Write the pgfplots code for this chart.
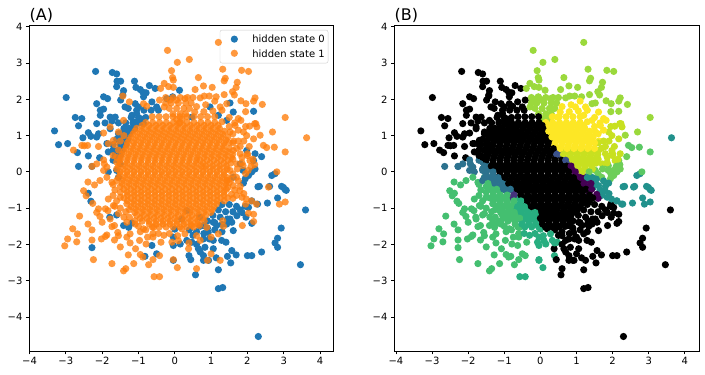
\documentclass[border=0pt]{standalone}
\usepackage{pgfplots}
\usepackage{pgfplotstable}
\usepackage{fontspec}
\setmainfont{DejaVu Sans}
\pgfplotsset{compat=1.18}
\definecolor{cblue}{HTML}{1F77B4}
\definecolor{corange}{HTML}{FF7F0E}
\definecolor{k0}{HTML}{000000}
\definecolor{k1}{HTML}{440154}
\definecolor{k11}{HTML}{46327E}
\definecolor{k2}{HTML}{3B528B}
\definecolor{k3}{HTML}{2C728E}
\definecolor{k4}{HTML}{21918C}
\definecolor{k5}{HTML}{28AE80}
\definecolor{k6}{HTML}{44BF70}
\definecolor{k12}{HTML}{5AC864}
\definecolor{k7}{HTML}{6ECE58}
\definecolor{k8}{HTML}{9BD93C}
\definecolor{k9}{HTML}{C8E020}
\definecolor{k10}{HTML}{FDE725}
\tikzset{cc/.style={mark=*,#1,draw=#1,fill=#1,draw opacity=0}}
\pgfplotsset{panel/.style={scale only axis,height=326pt,ymin=-4.94,ymax=4.05,
 xtick={-4,-3,-2,-1,0,1,2,3,4},xticklabels={−4,−3,−2,−1,0,1,2,3,4},
 ytick={-4,-3,-2,-1,0,1,2,3,4},yticklabels={−4,−3,−2,−1,0,1,2,3,4},
 tick align=outside,major tick length=3.5pt,xtick pos=bottom,ytick pos=left,
 tick style={line width=0.8pt,black},axis line style={line width=0.8pt},
 tick label style={font=\fontsize{10}{12}\selectfont},
 xticklabel style={yshift=0.5pt},
 title style={at={(0,1)},anchor=south west,inner sep=0pt,yshift=-4pt,font=\fontsize{16}{18}\selectfont}}}
\pgfplotstableread[row sep=\\]{
x y s c\\
-2.18 2.77 0 0\\ -1.72 2.74 0 0\\ -1.6 2.7 0 0\\ -1.59 2.5 0 0\\ -1.49 2.5 0 0\\ -1.6 2.35 0 0\\
-2.99 2.05 0 0\\ -1.96 2.07 0 0\\ -1.85 2.02 0 0\\ -2.15 1.88 0 0\\ -1.41 2.24 0 0\\ -1.43 2.12 0 0\\ -1.49 1.98 0 0\\
-1.11 2.5 0 0\\ -1.07 2.33 0 0\\ -.95 2.27 0 0\\ -.88 2.2 0 0\\ -.7 2.38 0 0\\ -.54 2.3 0 0\\ -.79 2.18 0 0\\ -.86 2.07 0 0\\
.13 2.25 0 8\\ -.06 2.07 0 8\\
-2.74 1.5 0 0\\ -2.56 1.47 0 0\\ -2.65 1.27 0 0\\ -3.31 1.13 0 0\\ -3.2 .75 0 0\\ -2.95 .78 0 0\\ -2.53 .94 0 0\\ -2.38 1.08 0 0\\ -2.31 .98 0 0\\
-2.68 .53 0 0\\ -2.38 .44 0 0\\ -2.65 .15 0 3\\ -2.28 .15 0 3\\ -2.07 .39 0 0\\ -2.15 .96 0 0\\ -2.1 1.05 0 0\\ -2.05 1.7 0 0\\ -1.96 1.73 0 0\\ -2.05 1.56 0 0\\
-2.15 1.33 0 0\\ -1.92 1.35 0 0\\ -1.78 1.51 0 0\\ -1.64 1.51 0 0\\ -1.73 1.4 0 0\\ -1.78 1.19 0 0\\ -1.55 1.35 0 0\\ -1.87 .78 0 0\\ -1.83 .55 0 0\\ -1.64 .36 0 3\\
-1.5 .22 0 3\\ -1.6 .04 0 3\\ -1.83 0 0 3\\ -1.55 -.15 0 6\\
-1.37 1.79 0 0\\ -1.28 1.75 0 0\\ -1.09 1.88 0 0\\ -1 1.79 0 0\\ -1.05 1.61 0 0\\ -1.18 1.56 0 0\\ -.95 1.47 0 0\\ -1.14 1.38 0 0\\ -1.32 1.19 0 0\\ -1.5 1.05 0 0\\
-1.18 1.15 0 0\\ -.86 1.33 0 0\\ -.63 1.93 0 0\\ -.5 1.79 0 0\\ -.22 2.02 0 8\\
-1.05 1.7 0 0\\ -.85 1.7 0 0\\ -.65 1.7 0 0\\ -.45 1.7 0 0\\ -1.2 1.5 0 0\\ -1 1.5 0 0\\ -.8 1.5 0 0\\ -1.35 1.35 0 0\\ -1.15 1.35 0 0\\ -1 1.35 0 0\\ -1.4 1.2 0 0\\ -1.25 1.2 0 0\\ -1.1 1.2 0 0\\
-1.55 1.05 0 0\\ -1.4 1.05 0 0\\ -1.25 1.05 0 0\\ -1.6 .9 0 0\\ -1.45 .9 0 0\\ -1.3 .9 0 0\\ -1.7 .75 0 0\\ -1.5 .75 0 0\\ -1.35 .75 0 0\\ -1.7 .6 0 0\\ -1.55 .6 0 0\\ -1.45 .6 0 0\\ -1.65 .45 0 0\\ -1.5 .45 0 0\\ -1.7 .32 0 3\\ -1.55 .32 0 0\\
2.17 1.67 0 8\\ 1.52 1.9 0 8\\ 1.61 1.65 0 10\\ 1.43 1.42 0 10\\ .97 1.79 0 10\\ 1.2 1.56 0 10\\ .47 1.51 0 10\\
1.98 .59 0 9\\ 2.21 .5 0 9\\ 2.39 .42 0 7\\ 2.17 .31 0 7\\ 2.21 .08 0 7\\ 2.12 0 0 7\\ 2.03 -.1 0 7\\ 1.94 -.19 0 7\\ 1.88 .04 0 7\\ 2.67 -.1 0 4\\ 2.76 -.05 0 4\\
2.33 -.4 0 4\\ 2.61 -.4 0 4\\ 2.94 -.4 0 4\\ 3.04 -.49 0 4\\ 1.89 -.31 0 4\\ 1.61 -.15 0 4\\ 1.8 .22 0 7\\
-2.38 -.59 0 6\\ -2.31 -.81 0 6\\ 2.29 -.41 0 4\\ 2.99 -.43 0 4\\ 3.07 -.51 0 4\\ 2.83 -.72 0 4\\ 2.55 -.86 0 4\\ 3.6 -1.05 0 0\\ 2.12 -.8 0 4\\ 2.28 -.89 0 4\\
2.03 -.98 0 0\\ 1.96 -1.25 0 0\\ 2.12 -1.42 0 0\\ 2.93 -1.55 0 0\\ 2.83 -1.83 0 0\\ 2.76 -1.96 0 0\\ 2.83 -2.08 0 0\\ 1.57 -2.17 0 0\\ 1.69 -2.29 0 0\\ 1.45 -2.33 0 0\\ 1.54 -2.51 0 0\\
2 -2.31 0 0\\ 2.12 -2.31 0 0\\ 2.39 -2.21 0 0\\ 3.46 -2.56 0 0\\ 1.2 -2.7 0 0\\ .57 -2.84 0 0\\ 1.2 -3.22 0 0\\ 1.32 -3.19 0 0\\ 2.3 -4.54 0 0\\ -.04 -2.44 0 5\\ .39 -2.31 0 5\\ .44 -2.42 0 0\\
-2.28 -2.09 0 6\\ -.5 -2.26 0 6\\ -.82 -2.33 0 6\\ -.63 -2.03 0 6\\ 1.14 -2.37 0 0\\ .7 -2.21 0 0\\ .79 -2.31 0 0\\ .65 -2.12 0 0\\ .83 -2.08 0 0\\ 1.06 -2.12 0 0\\ .79 -2.44 0 0\\ .93 -2.44 0 0\\
.47 -1.94 0 5\\ .6 -2 0 0\\ .33 -1.89 0 5\\ .15 -1.99 0 5\\ -.04 -2.03 0 5\\ 1.29 -1.89 0 0\\ 1.41 -1.94 0 0\\ 1.06 -1.89 0 0\\ .92 -1.67 0 0\\ .79 -1.85 0 0\\ 1.15 -1.48 0 0\\ 1.06 -1.39 0 0\\
1.61 -1.62 0 0\\ 1.57 -1.39 0 0\\ 1.43 -1.44 0 0\\ 1.71 -1.21 0 0\\ 1.52 -1.3 0 0\\ 1.85 -1.12 0 0\\ 1.94 -.95 0 0\\ -1.41 -1.48 0 6\\ -1.27 -1.53 0 6\\ -1.18 -1.41 0 6\\ -1.6 -1.19 0 6\\ -1.79 -1.25 0 6\\
.33 -1.07 0 0\\ .19 -1.3 0 0\\ .69 -1.25 0 0\\ .79 -1.48 0 0\\ 0 -1.58 0 5\\ -.04 -1.8 0 5\\
1.3 -.9 0 0\\ 1.5 -.9 0 0\\ 1.7 -.95 0 0\\ 1.2 -1.05 0 0\\ 1.4 -1.1 0 0\\ 1.6 -1.1 0 0\\ 1.8 -1.05 0 0\\ 1.05 -1.2 0 0\\ 1.25 -1.25 0 0\\ 1.45 -1.3 0 0\\ .9 -1.35 0 0\\ 1.1 -1.4 0 0\\ 1.3 -1.45 0 0\\ .7 -1.5 0 0\\ .9 -1.55 0 0\\ .6 -1.65 0 0\\ .8 -1.7 0 0\\ 1.1 -1.6 0 0\\ .5 -1.75 0 0\\ .95 -1.85 0 0\\ .4 -1.6 0 0\\ 1.3 -1.65 0 0\\
1.2 3.57 1 8\\ -.2 3.35 1 8\\ .07 3.02 1 8\\ .4 3.1 1 8\\ -.09 2.79 1 8\\ -.06 2.6 1 8\\ -.04 2.53 1 8\\ 1.32 2.83 1 8\\ 1.84 2.8 1 8\\ 2.03 2.77 1 8\\ 1.39 2.58 1 8\\ 1.36 2.51 1 8\\ .65 2.6 1 8\\ 1.72 2.47 1 8\\ .79 2.37 1 8\\
1.03 2.33 1 8\\ .56 2.27 1 8\\ 1.69 2.33 1 8\\ 1.59 2.21 1 8\\ 1.64 2.12 1 8\\ 1.36 2.13 1 8\\ -.29 2.44 1 8\\ -.17 2.35 1 8\\ -.04 2.33 1 8\\ -.39 2.3 1 8\\ 2.21 2.04 1 8\\ 2.17 1.95 1 8\\ 1.96 1.88 1 8\\ 1.82 1.96 1 8\\
2.41 1.86 1 8\\ 1.95 1.66 1 8\\ 3.04 1.5 1 8\\ 2.23 1.33 1 9\\ 2.26 1.24 1 9\\ 2.06 1.26 1 9\\ 2.69 1.1 1 8\\ 3.63 .94 1 4\\ 2.35 1.01 1 8\\ 2.44 .73 1 12\\ 2.53 .67 1 12\\ 2.74 .68 1 12\\ 3.04 .55 1 12\\
2.17 .91 1 9\\ 1.98 1 1 9\\ 1.89 1.1 1 9\\ 1.75 1.47 1 10\\ 1.66 1.28 1 10\\ 1.82 1.42 1 10\\ .7 2.04 1 8\\ .81 2.09 1 8\\ .95 2.09 1 8\\ 1.14 2.07 1 8\\ 1.25 1.79 1 10\\ 1.43 1.88 1 8\\
-1.43 2.09 1 0\\ -1.25 1.93 1 0\\ -.86 1.88 1 0\\ -.77 1.81 1 0\\ -.42 1.98 1 0\\ -.29 1.79 1 8\\ -.13 1.98 1 8\\ .05 1.98 1 8\\ .28 2.02 1 8\\
-1.78 1.24 1 0\\ -1.41 1.42 1 0\\ -1.96 1.07 1 0\\ -2.56 .73 1 0\\ -2.49 .72 1 0\\ -2.79 .6 1 0\\ -2.4 .73 1 0\\ -2.1 .7 1 0\\ -1.83 .78 1 0\\ -1.69 .87 1 0\\
-2.28 .15 1 3\\ -2.15 .22 1 3\\ -1.96 .33 1 3\\ -1.94 .22 1 3\\ -1.87 .13 1 3\\ -1.6 .27 1 3\\ -1.96 .04 1 3\\ -2.39 -.28 1 6\\ -2.21 -.36 1 6\\ -2.06 -.24 1 6\\ -1.87 -.15 1 6\\ -1.73 -.29 1 6\\
-2.51 -.52 1 6\\ -2.44 -.66 1 6\\ -2.26 -.87 1 6\\ -2.1 -1.02 1 6\\ -2.15 -1.12 1 6\\ -2.62 -1.22 1 6\\ -2.06 -1.23 1 6\\ -2 -1.39 1 6\\ -2.39 -1.44 1 6\\ -2.28 -1.6 1 6\\ -2.81 -1.57 1 6\\ -2.68 -1.71 1 6\\ -2.95 -1.85 1 6\\ -2.7 -1.93 1 6\\ -3.03 -2.04 1 6\\
-2.28 -1.88 1 6\\ -2.02 -1.85 1 6\\ -1.91 -1.78 1 6\\ -1.87 -1.74 1 6\\ -1.73 -1.51 1 6\\ -1.66 -1.48 1 6\\ -1.66 -1.88 1 6\\ -1.57 -1.67 1 6\\ -1.55 -1.76 1 6\\ -1.5 -2.07 1 6\\ -1.32 -1.8 1 6\\ -1.23 -1.71 1 6\\ -1.23 -1.96 1 6\\ -1.08 -2.12 1 6\\ -1.28 -2.29 1 6\\
-.95 -2.28 1 6\\ -.88 -2.35 1 6\\ -.42 -2.31 1 6\\ -.6 -2.42 1 6\\ -.72 -2.56 1 6\\ -1.13 -2.53 1 6\\ -1.73 -2.53 1 6\\ -2.24 -2.42 1 6\\ -1.35 -2.67 1 6\\ -1.41 -2.73 1 6\\ -.57 -2.89 1 5\\ -.42 -2.89 1 5\\ -.04 -2.42 1 5\\ .07 -2.64 1 5\\ .6 -2.67 1 0\\ .38 -2.12 1 0\\ .39 -1.96 1 5\\ .9 -2.44 1 0\\ 1 -2.26 1 0\\ 1.25 -2.44 1 0\\
.1 -1.9 1 5\\ -.08 -1.94 1 5\\ -.38 -1.94 1 6\\ -.6 -1.8 1 6\\ -.79 -1.99 1 6\\ -.97 -1.89 1 6\\ -.86 -1.57 1 6\\ -.58 -1.53 1 6\\ -1.09 -1.44 1 6\\ -1.32 -1.39 1 6\\ -1.83 -.75 1 6\\ -1.69 -.93 1 6\\ -1.91 -1.02 1 6\\ -1.84 -1.07 1 6\\ -1.78 -1.3 1 6\\
2.58 -.42 1 4\\ 2.88 -.89 1 4\\ 3.04 -.83 1 4\\ 1.95 -.89 1 0\\ 2.03 -1.14 1 0\\ 2.17 -1.17 1 0\\ 2.17 -1.37 1 0\\ 1.86 -1.48 1 0\\ 1.32 -1.35 1 0\\ 1.34 -1.5 1 0\\ 1.2 -1.71 1 0\\ 1 -1.8 1 0\\ .6 -1.76 1 0\\ .7 -1.89 1 0\\ .19 -1.57 1 0\\ .47 -1.48 1 0\\ .28 -1.71 1 5\\ .88 -1.53 1 0\\ .68 -1.48 1 0\\
2.81 0 1 12\\ 1.8 .5 1 9\\ 2 .5 1 9\\ 2.07 .31 1 9\\ 1.52 1.1 1 10\\ 1.61 .59 1 9\\ 1.71 .22 1 9\\ 1.52 .04 1 7\\ 1.43 -.24 1 4\\ 1.61 -.38 1 4\\ 1.6 -.06 1 7\\ 1.7 -.15 1 7\\ 1.88 .17 1 7\\ 2.02 .04 1 7\\ 2.1 .15 1 7\\ 2.2 .2 1 7\\ 1.95 -.05 1 7\\
1.46 -.43 1 4\\ 1.79 -.52 1 4\\ 1.97 -.75 1 4\\ 2.11 -.8 1 4\\ 2.25 -.89 1 4\\ 1.5 -.3 1 4\\ 1.65 -.5 1 4\\ 1.8 -.4 1 4\\ 1.9 -.6 1 4\\ 1.7 -.65 1 4\\ 1.55 -.2 1 4\\ 1.75 -.25 1 4\\ 1.85 -.7 1 4\\ 1.56 -.62 1 1\\ 1.6 -.73 1 1\\
-.25 2.05 1 8\\ -.05 2.05 1 8\\ .15 2.05 1 8\\ .35 2.05 1 8\\ .5 2.05 1 8\\ -.25 1.9 1 8\\ -.1 1.9 1 8\\ .1 1.9 1 8\\ .3 1.9 1 8\\ .45 1.9 1 8\\ -.15 1.75 1 8\\ .05 1.75 1 8\\ .25 1.75 1 8\\ .4 1.75 1 8\\ -.05 1.6 1 8\\ .15 1.6 1 8\\ .3 1.6 1 8\\ .05 1.45 1 8\\ .2 1.45 1 8\\ .12 1.35 1 8\\
.6 1.8 1 10\\ .85 1.85 1 10\\ 1.1 1.95 1 10\\ 1.3 1.7 1 10\\ 1.5 1.5 1 10\\ 1.65 1.35 1 10\\ 1.75 1.15 1 10\\ 1.05 1.68 1 10\\ .8 1.66 1 10\\ .55 1.65 1 10\\ 1.1 1.52 1 10\\ 1.3 1.38 1 10\\ 1.5 1.25 1 10\\ 1.6 1.05 1 10\\ 1.62 .85 1 10\\
1.6 .8 1 9\\ 1.7 .65 1 9\\ 1.6 .35 1 9\\ 1.72 .08 1 7\\ 1.9 .85 1 9\\ 2.05 .7 1 9\\ 2 .45 1 9\\ 2.15 .35 1 9\\ 1.85 .25 1 9\\ 1.95 1.25 1 9\\ 2.2 1.33 1 9\\ 1.75 .85 1 9\\ 1.8 .7 1 9\\ 1.85 .4 1 9\\
-1.65 .75 1 0\\ -1.55 .6 1 0\\ -1.7 .45 1 0\\ -1.6 .4 1 0\\ -1.5 .85 1 0\\ -1.4 1 1 0\\ -1.55 1.1 1 0\\
-1.7 -.35 1 6\\ -1.65 -.5 1 6\\ -1.7 -.65 1 6\\ -1.6 -.8 1 6\\ -1.65 -.95 1 6\\ -1.5 -.7 1 6\\ -1.5 -1 1 6\\ -1.55 -1.15 1 6\\ -1.35 -1.1 1 6\\ -1.4 -1.25 1 6\\ -1.25 -1.25 1 6\\ -1.1 -1.35 1 6\\ -1 -1.5 1 6\\ -.95 -1.65 1 6\\ -.8 -1.6 1 6\\ -.75 -1.8 1 6\\ -.6 -1.7 1 6\\ -.45 -1.7 1 5\\ -.3 -1.75 1 5\\ -.15 -1.7 1 5\\ .08 -1.76 1 5\\
-.62 1.52 1 0\\ -.43 1.52 1 0\\ -.24 1.52 1 0\\ -.05 1.52 1 0\\ .14 1.52 1 8\\ .33 1.52 1 10\\ .52 1.52 1 10\\ .71 1.52 1 10\\ .9 1.52 1 10\\
-.8 1.36 1 0\\ -.61 1.36 1 0\\ -.42 1.36 1 0\\ -.23 1.36 1 0\\ -.04 1.36 1 0\\ .15 1.36 1 10\\ .34 1.36 1 10\\ .53 1.36 1 10\\ .72 1.36 1 10\\ .91 1.36 1 10\\ 1.1 1.36 1 10\\
-1.05 1.2 1 0\\ -.86 1.2 1 0\\ -.67 1.2 1 0\\ -.48 1.2 1 0\\ -.29 1.2 1 0\\ -.1 1.2 1 0\\ .09 1.2 1 0\\ .28 1.2 1 10\\ .47 1.2 1 10\\ .66 1.2 1 10\\ .85 1.2 1 10\\ 1.04 1.2 1 10\\ 1.23 1.2 1 10\\
-1.15 1.04 1 0\\ -.96 1.04 1 0\\ -.77 1.04 1 0\\ -.58 1.04 1 0\\ -.39 1.04 1 0\\ -.2 1.04 1 0\\ -.01 1.04 1 0\\ .18 1.04 1 0\\ .37 1.04 1 10\\ .56 1.04 1 10\\ .75 1.04 1 10\\ .94 1.04 1 10\\ 1.13 1.04 1 10\\ 1.32 1.04 1 10\\
-1.25 .88 1 0\\ -1.06 .88 1 0\\ -.87 .88 1 0\\ -.68 .88 1 0\\ -.49 .88 1 0\\ -.3 .88 1 0\\ -.11 .88 1 0\\ .08 .88 1 0\\ .27 .88 1 0\\ .46 .88 1 10\\ .65 .88 1 10\\ .84 .88 1 10\\ 1.03 .88 1 10\\ 1.22 .88 1 10\\ 1.41 .88 1 10\\
-1.32 .72 1 0\\ -1.13 .72 1 0\\ -.94 .72 1 0\\ -.75 .72 1 0\\ -.56 .72 1 0\\ -.37 .72 1 0\\ -.18 .72 1 0\\ .01 .72 1 0\\ .2 .72 1 0\\ .39 .72 1 10\\ .58 .72 1 10\\ .77 .72 1 10\\ .96 .72 1 10\\ 1.15 .72 1 10\\ 1.34 .72 1 10\\
-1.4 .56 1 0\\ -1.21 .56 1 0\\ -1.02 .56 1 0\\ -.83 .56 1 0\\ -.64 .56 1 0\\ -.45 .56 1 0\\ -.26 .56 1 0\\ -.07 .56 1 0\\ .12 .56 1 0\\ .31 .56 1 0\\ .5 .56 1 2\\ .69 .56 1 9\\ .88 .56 1 9\\ 1.07 .56 1 9\\ 1.26 .56 1 9\\ 1.45 .56 1 9\\
-1.48 .4 1 0\\ -1.29 .4 1 0\\ -1.1 .4 1 0\\ -.91 .4 1 0\\ -.72 .4 1 0\\ -.53 .4 1 0\\ -.34 .4 1 0\\ -.15 .4 1 0\\ .04 .4 1 0\\ .23 .4 1 0\\ .42 .4 1 0\\ .61 .4 1 2\\ .8 .4 1 9\\ .99 .4 1 9\\ 1.18 .4 1 9\\ 1.37 .4 1 9\\ 1.56 .4 1 9\\
-1.5 .24 1 3\\ -1.31 .24 1 0\\ -1.12 .24 1 0\\ -.93 .24 1 0\\ -.74 .24 1 0\\ -.55 .24 1 0\\ -.36 .24 1 0\\ -.17 .24 1 0\\ .02 .24 1 0\\ .21 .24 1 0\\ .4 .24 1 0\\ .59 .24 1 0\\ .78 .24 1 2\\ .97 .24 1 9\\ 1.16 .24 1 9\\ 1.35 .24 1 9\\ 1.54 .24 1 9\\
-1.6 .08 1 3\\ -1.41 .08 1 3\\ -1.22 .08 1 0\\ -1.03 .08 1 0\\ -.84 .08 1 0\\ -.65 .08 1 0\\ -.46 .08 1 0\\ -.27 .08 1 0\\ -.08 .08 1 0\\ .11 .08 1 0\\ .3 .08 1 0\\ .49 .08 1 0\\ .68 .08 1 0\\ .87 .08 1 1\\ 1.06 .08 1 9\\ 1.25 .08 1 9\\ 1.44 .08 1 9\\
-1.5 -.08 1 3\\ -1.31 -.08 1 3\\ -1.12 -.08 1 0\\ -.93 -.08 1 0\\ -.74 -.08 1 0\\ -.55 -.08 1 0\\ -.36 -.08 1 0\\ -.17 -.08 1 0\\ .02 -.08 1 0\\ .21 -.08 1 0\\ .4 -.08 1 0\\ .59 -.08 1 0\\ .78 -.08 1 0\\ .97 -.08 1 1\\ 1.16 -.08 1 1\\ 1.35 -.08 1 4\\
-1.6 -.24 1 3\\ -1.41 -.24 1 3\\ -1.22 -.24 1 3\\ -1.03 -.24 1 3\\ -.84 -.24 1 0\\ -.65 -.24 1 0\\ -.46 -.24 1 0\\ -.27 -.24 1 0\\ -.08 -.24 1 0\\ .11 -.24 1 0\\ .3 -.24 1 0\\ .49 -.24 1 0\\ .68 -.24 1 0\\ .87 -.24 1 0\\ 1.06 -.24 1 0\\ 1.25 -.24 1 1\\ 1.44 -.24 1 4\\
-1.5 -.4 1 6\\ -1.31 -.4 1 6\\ -1.12 -.4 1 3\\ -.93 -.4 1 3\\ -.74 -.4 1 0\\ -.55 -.4 1 0\\ -.36 -.4 1 0\\ -.17 -.4 1 0\\ .02 -.4 1 0\\ .21 -.4 1 0\\ .4 -.4 1 0\\ .59 -.4 1 0\\ .78 -.4 1 0\\ .97 -.4 1 0\\ 1.16 -.4 1 0\\ 1.35 -.4 1 1\\
-1.5 -.56 1 6\\ -1.31 -.56 1 6\\ -1.12 -.56 1 6\\ -.93 -.56 1 3\\ -.74 -.56 1 11\\ -.55 -.56 1 0\\ -.36 -.56 1 0\\ -.17 -.56 1 0\\ .02 -.56 1 0\\ .21 -.56 1 0\\ .4 -.56 1 0\\ .59 -.56 1 0\\ .78 -.56 1 0\\ .97 -.56 1 0\\ 1.16 -.56 1 0\\ 1.35 -.56 1 1\\
-1.4 -.72 1 6\\ -1.21 -.72 1 6\\ -1.02 -.72 1 6\\ -.83 -.72 1 11\\ -.64 -.72 1 5\\ -.45 -.72 1 0\\ -.26 -.72 1 0\\ -.07 -.72 1 0\\ .12 -.72 1 0\\ .31 -.72 1 0\\ .5 -.72 1 0\\ .69 -.72 1 0\\ .88 -.72 1 0\\ 1.07 -.72 1 0\\ 1.26 -.72 1 0\\ 1.45 -.72 1 0\\
-1.32 -.88 1 6\\ -1.13 -.88 1 6\\ -.94 -.88 1 6\\ -.75 -.88 1 6\\ -.56 -.88 1 5\\ -.37 -.88 1 0\\ -.18 -.88 1 0\\ .01 -.88 1 0\\ .2 -.88 1 0\\ .39 -.88 1 0\\ .58 -.88 1 0\\ .77 -.88 1 0\\ .96 -.88 1 0\\ 1.15 -.88 1 0\\
-1.25 -1.04 1 6\\ -1.06 -1.04 1 6\\ -.87 -1.04 1 6\\ -.68 -1.04 1 5\\ -.49 -1.04 1 5\\ -.3 -1.04 1 5\\ -.11 -1.04 1 0\\ .08 -1.04 1 0\\ .27 -1.04 1 0\\ .46 -1.04 1 0\\ .65 -1.04 1 0\\ .84 -1.04 1 0\\ 1.03 -1.04 1 0\\
-1.05 -1.2 1 6\\ -.86 -1.2 1 6\\ -.67 -1.2 1 6\\ -.48 -1.2 1 5\\ -.29 -1.2 1 5\\ -.1 -1.2 1 5\\ .09 -1.2 1 0\\ .28 -1.2 1 0\\ .47 -1.2 1 0\\ .66 -1.2 1 0\\ .85 -1.2 1 0\\
-.9 -1.36 1 6\\ -.71 -1.36 1 6\\ -.52 -1.36 1 5\\ -.33 -1.36 1 5\\ -.14 -1.36 1 5\\ .05 -1.36 1 0\\ .24 -1.36 1 0\\ .43 -1.36 1 0\\ .62 -1.36 1 0\\ .81 -1.36 1 0\\
-.62 -1.52 1 6\\ -.43 -1.52 1 5\\ -.24 -1.52 1 5\\ -.05 -1.52 1 5\\ .14 -1.52 1 0\\ .33 -1.52 1 0\\ .52 -1.52 1 0\\
-.9 1.28 1 0\\ -.71 1.28 1 0\\ -.52 1.28 1 0\\ -.33 1.28 1 0\\ -.14 1.28 1 0\\ .05 1.28 1 0\\ .24 1.28 1 10\\ .43 1.28 1 10\\ .62 1.28 1 10\\ .81 1.28 1 10\\ 1 1.28 1 10\\ 1.19 1.28 1 10\\
-1.1 1.12 1 0\\ -.91 1.12 1 0\\ -.72 1.12 1 0\\ -.53 1.12 1 0\\ -.34 1.12 1 0\\ -.15 1.12 1 0\\ .04 1.12 1 0\\ .23 1.12 1 10\\ .42 1.12 1 10\\ .61 1.12 1 10\\ .8 1.12 1 10\\ .99 1.12 1 10\\ 1.18 1.12 1 10\\ 1.37 1.12 1 10\\
-1.2 .96 1 0\\ -1.01 .96 1 0\\ -.82 .96 1 0\\ -.63 .96 1 0\\ -.44 .96 1 0\\ -.25 .96 1 0\\ -.06 .96 1 0\\ .13 .96 1 0\\ .32 .96 1 10\\ .51 .96 1 10\\ .7 .96 1 10\\ .89 .96 1 10\\ 1.08 .96 1 10\\ 1.27 .96 1 10\\ 1.46 .96 1 10\\
-1.3 .8 1 0\\ -1.11 .8 1 0\\ -.92 .8 1 0\\ -.73 .8 1 0\\ -.54 .8 1 0\\ -.35 .8 1 0\\ -.16 .8 1 0\\ .03 .8 1 0\\ .22 .8 1 0\\ .41 .8 1 10\\ .6 .8 1 10\\ .79 .8 1 10\\ .98 .8 1 10\\ 1.17 .8 1 10\\ 1.36 .8 1 10\\ 1.5 .8 1 10\\
-1.35 .64 1 0\\ -1.16 .64 1 0\\ -.97 .64 1 0\\ -.78 .64 1 0\\ -.59 .64 1 0\\ -.4 .64 1 0\\ -.21 .64 1 0\\ -.02 .64 1 0\\ .17 .64 1 0\\ .36 .64 1 0\\ .55 .64 1 10\\ .74 .64 1 10\\ .93 .64 1 10\\ 1.12 .64 1 10\\ 1.31 .64 1 10\\ 1.5 .64 1 10\\
-1.45 .48 1 0\\ -1.26 .48 1 0\\ -1.07 .48 1 0\\ -.88 .48 1 0\\ -.69 .48 1 0\\ -.5 .48 1 0\\ -.31 .48 1 0\\ -.12 .48 1 0\\ .07 .48 1 0\\ .26 .48 1 0\\ .45 .48 1 2\\ .64 .48 1 9\\ .83 .48 1 9\\ 1.02 .48 1 9\\ 1.21 .48 1 9\\ 1.4 .48 1 9\\ 1.59 .48 1 9\\
-1.5 .32 1 0\\ -1.31 .32 1 0\\ -1.12 .32 1 0\\ -.93 .32 1 0\\ -.74 .32 1 0\\ -.55 .32 1 0\\ -.36 .32 1 0\\ -.17 .32 1 0\\ .02 .32 1 0\\ .21 .32 1 0\\ .4 .32 1 0\\ .59 .32 1 0\\ .7 .32 1 2\\ .89 .32 1 9\\ 1.08 .32 1 9\\ 1.27 .32 1 9\\ 1.46 .32 1 9\\
-1.55 .16 1 3\\ -1.36 .16 1 0\\ -1.17 .16 1 0\\ -.98 .16 1 0\\ -.79 .16 1 0\\ -.6 .16 1 0\\ -.41 .16 1 0\\ -.22 .16 1 0\\ -.03 .16 1 0\\ .16 .16 1 0\\ .35 .16 1 0\\ .54 .16 1 0\\ .73 .16 1 0\\ .85 .16 1 1\\ 1.04 .16 1 9\\ 1.23 .16 1 9\\ 1.42 .16 1 9\\
-1.5 0 1 3\\ -1.31 0 1 3\\ -1.12 0 1 0\\ -.93 0 1 0\\ -.74 0 1 0\\ -.55 0 1 0\\ -.36 0 1 0\\ -.17 0 1 0\\ .02 0 1 0\\ .21 0 1 0\\ .4 0 1 0\\ .59 0 1 0\\ .78 0 1 0\\ .97 0 1 1\\ 1.16 0 1 9\\ 1.35 0 1 7\\
-1.55 -.16 1 3\\ -1.36 -.16 1 3\\ -1.17 -.16 1 3\\ -.98 -.16 1 0\\ -.79 -.16 1 0\\ -.6 -.16 1 0\\ -.41 -.16 1 0\\ -.22 -.16 1 0\\ -.03 -.16 1 0\\ .16 -.16 1 0\\ .35 -.16 1 0\\ .54 -.16 1 0\\ .73 -.16 1 0\\ .92 -.16 1 0\\ 1.11 -.16 1 1\\ 1.3 -.16 1 4\\ 1.45 -.16 1 4\\
-1.45 -.32 1 6\\ -1.26 -.32 1 3\\ -1.07 -.32 1 3\\ -.88 -.32 1 0\\ -.69 -.32 1 0\\ -.5 -.32 1 0\\ -.31 -.32 1 0\\ -.12 -.32 1 0\\ .07 -.32 1 0\\ .26 -.32 1 0\\ .45 -.32 1 0\\ .64 -.32 1 0\\ .83 -.32 1 0\\ 1.02 -.32 1 0\\ 1.21 -.32 1 1\\ 1.4 -.32 1 1\\
-1.4 -.48 1 6\\ -1.21 -.48 1 6\\ -1.02 -.48 1 3\\ -.83 -.48 1 3\\ -.64 -.48 1 0\\ -.45 -.48 1 0\\ -.26 -.48 1 0\\ -.07 -.48 1 0\\ .12 -.48 1 0\\ .31 -.48 1 0\\ .5 -.48 1 0\\ .69 -.48 1 0\\ .88 -.48 1 0\\ 1.07 -.48 1 0\\ 1.26 -.48 1 0\\ 1.42 -.48 1 1\\
-1.3 -.64 1 6\\ -1.11 -.64 1 6\\ -.92 -.64 1 6\\ -.73 -.64 1 11\\ -.54 -.64 1 0\\ -.35 -.64 1 0\\ -.16 -.64 1 0\\ .03 -.64 1 0\\ .22 -.64 1 0\\ .41 -.64 1 0\\ .6 -.64 1 0\\ .79 -.64 1 0\\ .98 -.64 1 0\\ 1.17 -.64 1 0\\ 1.36 -.64 1 0\\
-1.3 -.8 1 6\\ -1.11 -.8 1 6\\ -.92 -.8 1 6\\ -.73 -.8 1 6\\ -.54 -.8 1 5\\ -.35 -.8 1 0\\ -.16 -.8 1 0\\ .03 -.8 1 0\\ .22 -.8 1 0\\ .41 -.8 1 0\\ .6 -.8 1 0\\ .79 -.8 1 0\\ .98 -.8 1 0\\ 1.17 -.8 1 0\\ 1.36 -.8 1 0\\
-1.2 -.96 1 6\\ -1.01 -.96 1 6\\ -.82 -.96 1 6\\ -.63 -.96 1 5\\ -.44 -.96 1 5\\ -.25 -.96 1 0\\ -.06 -.96 1 0\\ .13 -.96 1 0\\ .32 -.96 1 0\\ .51 -.96 1 0\\ .7 -.96 1 0\\ .89 -.96 1 0\\ 1.08 -.96 1 0\\
-1.1 -1.12 1 6\\ -.91 -1.12 1 6\\ -.72 -1.12 1 6\\ -.53 -1.12 1 5\\ -.34 -1.12 1 5\\ -.15 -1.12 1 5\\ .04 -1.12 1 0\\ .23 -1.12 1 0\\ .42 -1.12 1 0\\ .61 -1.12 1 0\\ .8 -1.12 1 0\\ .99 -1.12 1 0\\
-.95 -1.28 1 6\\ -.76 -1.28 1 6\\ -.57 -1.28 1 6\\ -.38 -1.28 1 5\\ -.19 -1.28 1 5\\ 0 -1.28 1 0\\ .19 -1.28 1 0\\ .38 -1.28 1 0\\ .57 -1.28 1 0\\ .76 -1.28 1 0\\
-.7 -1.44 1 6\\ -.51 -1.44 1 5\\ -.32 -1.44 1 5\\ -.13 -1.44 1 5\\ .06 -1.44 1 0\\ .25 -1.44 1 0\\ .44 -1.44 1 0\\ .63 -1.44 1 0\\
}\data
\begin{document}
\begin{tikzpicture}
\useasboundingbox (0,0) rectangle (705pt,375pt);
\begin{axis}[panel,at={(29.5pt,24pt)},anchor=south west,width=304pt,xmin=-4,xmax=4.37,title={(A)}]
\addplot[scatter,only marks,mark=*,mark size=3.6pt,scatter src=explicit symbolic,scatter/classes={0={cc=cblue},1={cc=corange,fill opacity=0.8}}] table[x=x,y=y,meta=s]{\data};
\draw[draw=black!20,fill=white,fill opacity=0.8,rounded corners=2pt] (axis cs:1.245,3.0) rectangle (axis cs:4.22,3.91);
\addplot[only marks,mark=*,mark size=3.6pt,mark options={draw=cblue,fill=cblue,draw opacity=0}] coordinates {(1.64,3.66)};
\addplot[only marks,mark=*,mark size=3.6pt,mark options={draw=corange,fill=corange,draw opacity=0,fill opacity=0.8}] coordinates {(1.64,3.27)};
\node[anchor=west,inner sep=0pt,font=\fontsize{10}{12}\selectfont] at (axis cs:2.13,3.66) {hidden state 0};
\node[anchor=west,inner sep=0pt,font=\fontsize{10}{12}\selectfont] at (axis cs:2.13,3.27) {hidden state 1};
\end{axis}
\begin{axis}[panel,at={(394.5pt,24pt)},anchor=south west,width=304.8pt,xmin=-4.04,xmax=4.4,title={(B)}]
\addplot[scatter,only marks,mark=*,mark size=3.6pt,scatter src=explicit symbolic,scatter/classes={0={cc=k0},1={cc=k1},2={cc=k2},3={cc=k3},4={cc=k4},5={cc=k5},6={cc=k6},7={cc=k7},8={cc=k8},9={cc=k9},10={cc=k10},11={cc=k11},12={cc=k12}}] table[x=x,y=y,meta=c]{\data};
\end{axis}
\end{tikzpicture}
\end{document}
